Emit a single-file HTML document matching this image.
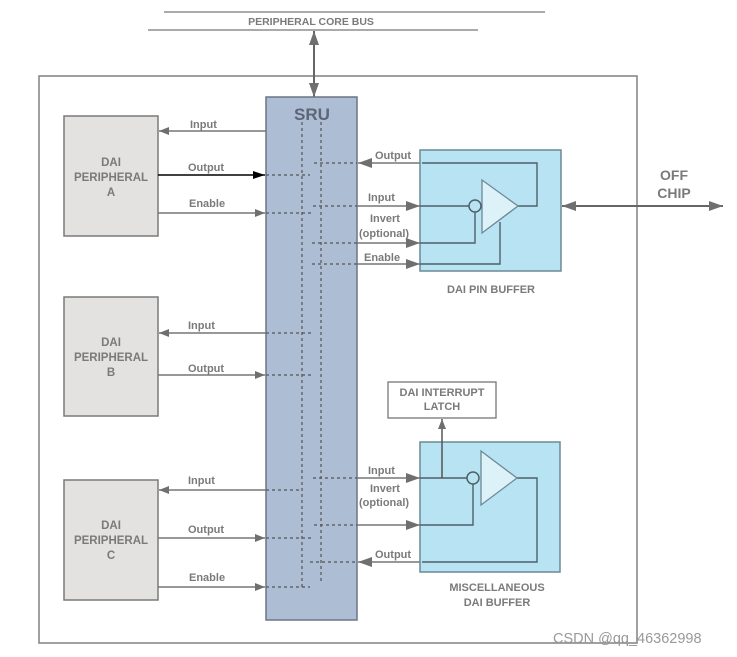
<!DOCTYPE html>
<html><head><meta charset="utf-8"><style>
html,body{margin:0;padding:0;background:#fff;}
svg{display:block;}
text{font-family:"Liberation Sans",Arial,sans-serif;font-weight:bold;fill:#7a7a7a;}
</style></head><body>
<svg width="737" height="657" viewBox="0 0 737 657" xmlns="http://www.w3.org/2000/svg">
<defs>
<marker id="ag" markerWidth="10" markerHeight="8" refX="10" refY="4" orient="auto" markerUnits="userSpaceOnUse">
<path d="M0,0 L10,4 L0,8 Z" fill="#6f6f6f"/></marker>
<marker id="ab" markerWidth="12" markerHeight="8" refX="12" refY="4" orient="auto" markerUnits="userSpaceOnUse">
<path d="M0,0 L12,4 L0,8 Z" fill="#000"/></marker>
<marker id="ag2" markerWidth="14" markerHeight="10" refX="14" refY="5" orient="auto" markerUnits="userSpaceOnUse">
<path d="M0,0 L14,5 L0,10 Z" fill="#6f6f6f"/></marker>
</defs>
<!-- bus -->
<line x1="164" y1="12" x2="545" y2="12" stroke="#777" stroke-width="1.3"/>
<line x1="148" y1="30" x2="478" y2="30" stroke="#777" stroke-width="1.3"/>
<text x="311" y="25" font-size="10.5" text-anchor="middle">PERIPHERAL CORE BUS</text>
<!-- outer -->
<rect x="39" y="76" width="598" height="567" fill="none" stroke="#888" stroke-width="1.6"/>
<line x1="314" y1="52" x2="314" y2="76" stroke="#666" stroke-width="2"/>
<line x1="314" y1="52" x2="314" y2="31" stroke="#666" stroke-width="2" marker-end="url(#ag2)"/>
<line x1="314" y1="76" x2="314" y2="97" stroke="#666" stroke-width="2" marker-end="url(#ag2)"/>
<!-- SRU -->
<rect x="266" y="97" width="91" height="523" fill="#adbdd4" stroke="#6b7585" stroke-width="1.5"/>
<text x="312" y="120" font-size="17" text-anchor="middle" fill="#5d6677" style="fill:#5d6677">SRU</text>
<g stroke="#555" stroke-width="1.2" stroke-dasharray="3,3" fill="none">
<line x1="302" y1="122" x2="302" y2="587"/>
<line x1="321" y1="122" x2="321" y2="583"/>
<line x1="266" y1="175" x2="310" y2="175"/>
<line x1="266" y1="213" x2="312" y2="213"/>
<line x1="266" y1="333" x2="312" y2="333"/>
<line x1="266" y1="375" x2="313" y2="375"/>
<line x1="266" y1="490" x2="302" y2="490"/>
<line x1="266" y1="538" x2="312" y2="538"/>
<line x1="266" y1="587" x2="310" y2="587"/>
<line x1="314" y1="163" x2="357" y2="163"/>
<line x1="313" y1="206" x2="357" y2="206"/>
<line x1="312" y1="243" x2="357" y2="243"/>
<line x1="312" y1="264" x2="357" y2="264"/>
<line x1="313" y1="478" x2="357" y2="478"/>
<line x1="314" y1="525" x2="357" y2="525"/>
<line x1="310" y1="562" x2="357" y2="562"/>
</g>
<!-- peripherals -->
<g fill="#e3e2e1" stroke="#7a7a7a" stroke-width="1.5">
<rect x="64" y="116" width="94" height="120"/>
<rect x="64" y="297" width="94" height="119"/>
<rect x="64" y="480" width="94" height="120"/>
</g>
<g font-size="11.5" text-anchor="middle">
<text x="111" y="166">DAI</text><text x="111" y="181">PERIPHERAL</text><text x="111" y="196">A</text>
<text x="111" y="346">DAI</text><text x="111" y="361">PERIPHERAL</text><text x="111" y="376">B</text>
<text x="111" y="529">DAI</text><text x="111" y="544">PERIPHERAL</text><text x="111" y="559">C</text>
</g>
<!-- left arrows -->
<g stroke="#777" stroke-width="1.5">
<line x1="266" y1="131" x2="159" y2="131" marker-end="url(#ag)"/>
<line x1="158" y1="213" x2="265" y2="213" marker-end="url(#ag)"/>
<line x1="266" y1="333" x2="159" y2="333" marker-end="url(#ag)"/>
<line x1="158" y1="375" x2="265" y2="375" marker-end="url(#ag)"/>
<line x1="266" y1="490" x2="159" y2="490" marker-end="url(#ag)"/>
<line x1="158" y1="538" x2="265" y2="538" marker-end="url(#ag)"/>
<line x1="158" y1="587" x2="265" y2="587" marker-end="url(#ag)"/>
</g>
<line x1="158" y1="175" x2="265" y2="175" stroke="#000" stroke-width="1.6" marker-end="url(#ab)"/>
<g font-size="11">
<text x="190" y="128">Input</text><text x="188" y="171">Output</text><text x="189" y="207">Enable</text>
<text x="188" y="329">Input</text><text x="188" y="372">Output</text>
<text x="188" y="484">Input</text><text x="188" y="533">Output</text><text x="189" y="581">Enable</text>
</g>
<!-- pin buffer -->
<rect x="420" y="150" width="141" height="121" fill="#b7e3f3" stroke="#6b8a96" stroke-width="1.5"/>
<g stroke="#4f6068" stroke-width="1.4" fill="none">
<polyline points="518,206 537,206 537,163 422,163"/>
<line x1="420" y1="206" x2="469" y2="206"/>
<polyline points="420,243 475,243 475,212"/>
<polyline points="420,264 500,264 500,222"/>
</g>
<polygon points="482,180 518,206 482,233" fill="#dcf1f8" stroke="#6b8a96" stroke-width="1.3"/>
<circle cx="475" cy="206" r="6" fill="#b7e3f3" stroke="#4f6068" stroke-width="1.5"/>
<g stroke="#777" stroke-width="1.5">
<line x1="420" y1="163" x2="358" y2="163" marker-end="url(#ag2)"/>
<line x1="357" y1="206" x2="420" y2="206" marker-end="url(#ag2)"/>
<line x1="357" y1="243" x2="420" y2="243" marker-end="url(#ag2)"/>
<line x1="357" y1="264" x2="420" y2="264" marker-end="url(#ag2)"/>
</g>
<g stroke="#666" stroke-width="2">
<line x1="640" y1="206" x2="562" y2="206" marker-end="url(#ag2)"/>
<line x1="630" y1="206" x2="723" y2="206" marker-end="url(#ag2)"/>
</g>
<text x="674" y="180" font-size="14" text-anchor="middle">OFF</text>
<text x="674" y="198" font-size="14" text-anchor="middle">CHIP</text>
<g font-size="11">
<text x="375" y="159">Output</text><text x="368" y="201">Input</text>
<text x="370" y="222">Invert</text><text x="359" y="237">(optional)</text>
<text x="364" y="261">Enable</text>
<text x="368" y="474">Input</text>
<text x="370" y="492">Invert</text><text x="359" y="506">(optional)</text>
<text x="375" y="558">Output</text>
</g>
<text x="491" y="293" font-size="11" text-anchor="middle">DAI PIN BUFFER</text>
<!-- misc buffer -->
<rect x="388" y="382" width="108" height="36" fill="#fff" stroke="#777" stroke-width="1.3"/>
<text x="442" y="396" font-size="11" text-anchor="middle">DAI INTERRUPT</text>
<text x="442" y="410" font-size="11" text-anchor="middle">LATCH</text>
<rect x="420" y="442" width="140" height="130" fill="#b7e3f3" stroke="#6b8a96" stroke-width="1.5"/>
<g stroke="#4f6068" stroke-width="1.4" fill="none">
<line x1="420" y1="478" x2="467" y2="478"/>
<polyline points="517,478 537,478 537,562 422,562"/>
<polyline points="420,525 473,525 473,484"/>
</g>
<line x1="442" y1="478" x2="442" y2="419" stroke="#555" stroke-width="1.5" marker-end="url(#ag)"/>
<polygon points="481,451 517,478 481,505" fill="#dcf1f8" stroke="#6b8a96" stroke-width="1.3"/>
<circle cx="473" cy="478" r="6" fill="#b7e3f3" stroke="#4f6068" stroke-width="1.5"/>
<g stroke="#777" stroke-width="1.5">
<line x1="357" y1="478" x2="420" y2="478" marker-end="url(#ag2)"/>
<line x1="357" y1="525" x2="420" y2="525" marker-end="url(#ag2)"/>
<line x1="420" y1="562" x2="358" y2="562" marker-end="url(#ag2)"/>
</g>
<text x="497" y="591" font-size="11" text-anchor="middle">MISCELLANEOUS</text>
<text x="497" y="606" font-size="11" text-anchor="middle">DAI BUFFER</text>
<text x="553" y="643" font-size="14.5" style="font-weight:normal;fill:#999">CSDN @qq_46362998</text>
</svg>
</body></html>
